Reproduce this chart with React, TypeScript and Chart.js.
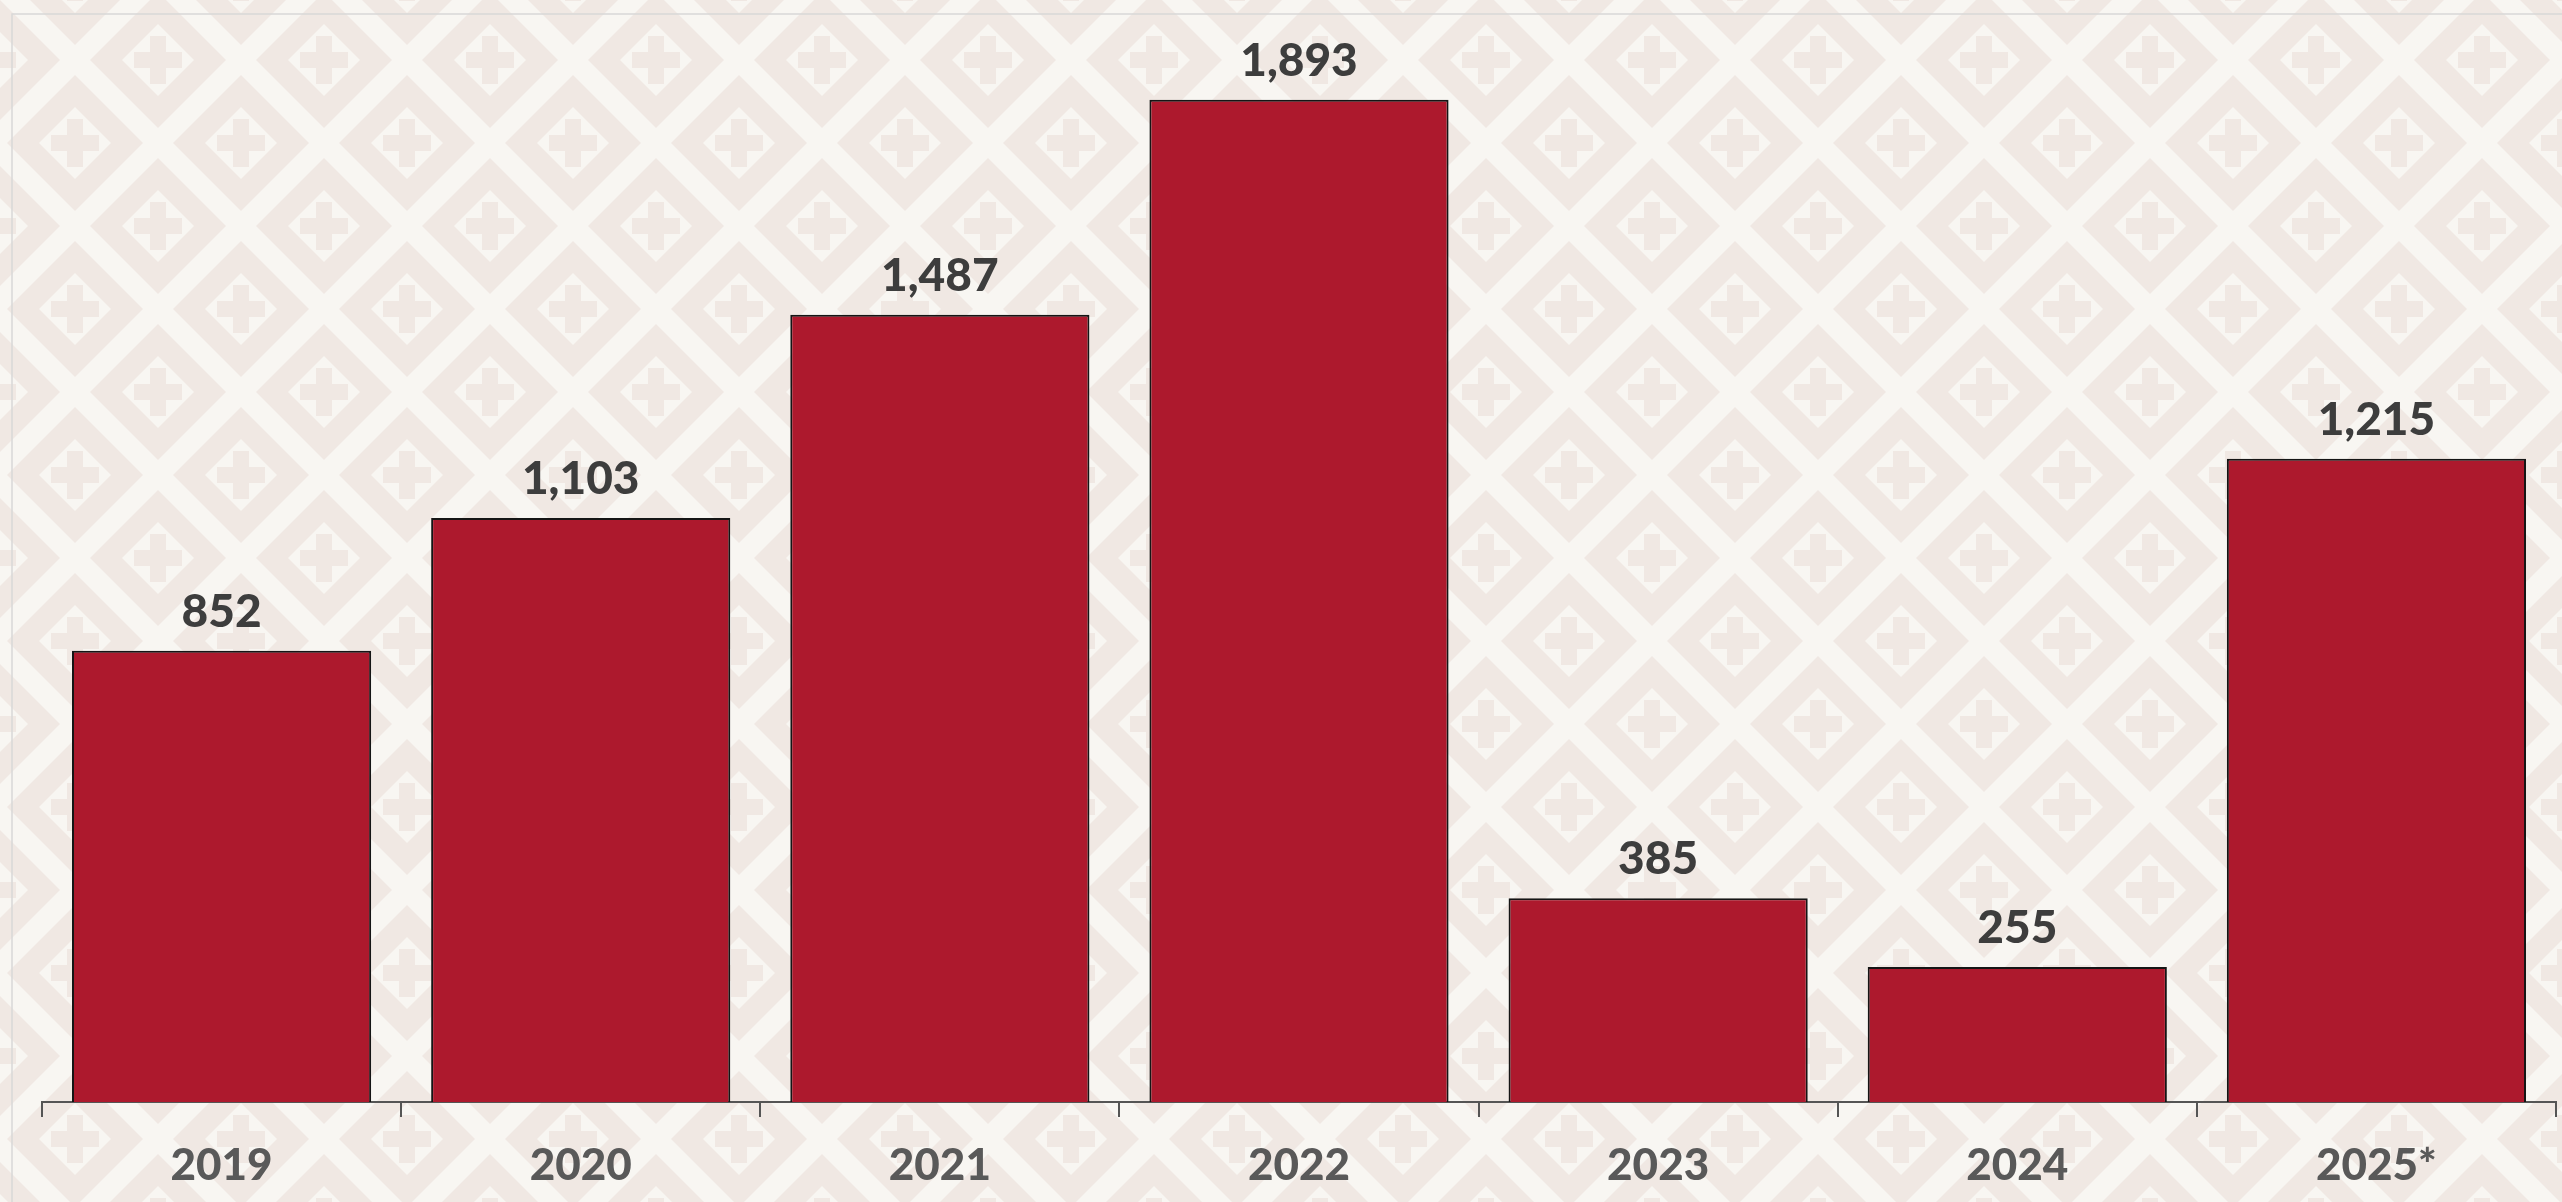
import React, { useEffect, useRef } from "react";
import { Chart, registerables } from "chart.js";

Chart.register(...registerables);

const categories: string[] = ["2019", "2020", "2021", "2022", "2023", "2024", "2025*"];
const values: number[] = [852, 1103, 1487, 1893, 385, 255, 1215];
const yMax = 2000;

const W = 2562;
const H = 1202;

function makeTile(): HTMLCanvasElement {
  const P = 166;
  const c = document.createElement("canvas");
  c.width = P;
  c.height = P;
  const g = c.getContext("2d")!;
  g.fillStyle = "#f8f6f2";
  g.fillRect(0, 0, P, P);
  const centers = [
    [0, 0],
    [P, 0],
    [0, P],
    [P, P],
    [P / 2, P / 2],
  ];
  const diamond = (cx: number, cy: number, d: number) => {
    g.beginPath();
    g.moveTo(cx - d, cy);
    g.lineTo(cx, cy - d);
    g.lineTo(cx + d, cy);
    g.lineTo(cx, cy + d);
    g.closePath();
    g.fill();
  };
  for (const [cx, cy] of centers) {
    g.fillStyle = "#f0e8e3";
    diamond(cx, cy, 68);
    g.fillStyle = "#f8f6f2";
    diamond(cx, cy, 36);
    g.fillStyle = "#f0e8e3";
    g.fillRect(cx - 24, cy - 8, 48, 16);
    g.fillRect(cx - 8, cy - 24, 16, 48);
  }
  return c;
}

const backgroundPlugin = {
  id: "bgPattern",
  beforeDraw(chart: any) {
    const ctx = chart.ctx as CanvasRenderingContext2D;
    ctx.save();
    const pat = ctx.createPattern(makeTile(), "repeat");
    if (pat) {
      try {
        pat.setTransform(new DOMMatrix().translate(158, 60));
      } catch (e) {}
      ctx.fillStyle = pat;
    } else {
      ctx.fillStyle = "#f8f6f2";
    }
    ctx.fillRect(0, 0, chart.width, chart.height);
    ctx.strokeStyle = "#d8d8d8";
    ctx.lineWidth = 1.5;
    ctx.beginPath();
    ctx.moveTo(12, chart.height);
    ctx.lineTo(12, 14);
    ctx.lineTo(chart.width, 14);
    ctx.stroke();
    ctx.restore();
  },
};

const valueLabelPlugin = {
  id: "valueLabels",
  afterDatasetsDraw(chart: any) {
    const ctx = chart.ctx as CanvasRenderingContext2D;
    const meta = chart.getDatasetMeta(0);
    const data = chart.data.datasets[0].data as number[];
    ctx.save();
    ctx.fillStyle = "#3d3d3d";
    ctx.font = "900 46px Lato";
    ctx.textAlign = "center";
    ctx.textBaseline = "alphabetic";
    meta.data.forEach((bar: any, i: number) => {
      ctx.fillText(data[i].toLocaleString("en-US"), bar.x, bar.y - 24);
    });
    ctx.restore();
  },
};

export default function App() {
  const ref = useRef<HTMLCanvasElement | null>(null);
  useEffect(() => {
    if (!ref.current) return;
    const chart = new Chart(ref.current, {
      type: "bar",
      data: {
        labels: categories,
        datasets: [
          {
            data: values,
            backgroundColor: "#ad192d",
            borderColor: "#151515",
            borderWidth: 2,
            categoryPercentage: 1,
            barPercentage: 0.833,
          },
        ],
      },
      options: {
        responsive: false,
        animation: false,
        devicePixelRatio: 1,
        layout: { padding: { left: 42, right: 6, top: 43, bottom: 0 } },
        plugins: {
          legend: { display: false },
          tooltip: { enabled: false },
          title: { display: false },
        },
        scales: {
          x: {
            afterFit: (scale: any) => {
              scale.height = 100;
            },
            grid: {
              display: true,
              drawOnChartArea: false,
              drawTicks: true,
              tickLength: 15,
              color: "#555555",
              lineWidth: 2,
            },
            border: { display: true, color: "#555555", width: 2 },
            ticks: {
              color: "#595959",
              font: { family: "Lato", size: 44, weight: "900" },
              padding: 22,
            },
          },
          y: {
            display: false,
            min: 0,
            max: yMax,
          },
        },
      },
      plugins: [backgroundPlugin, valueLabelPlugin],
    });
    return () => chart.destroy();
  }, []);
  return (
    <div style={{ position: "fixed", left: 0, top: 0, width: W, height: H }}>
      <canvas ref={ref} width={W} height={H} style={{ display: "block", width: W, height: H }} />
    </div>
  );
}
